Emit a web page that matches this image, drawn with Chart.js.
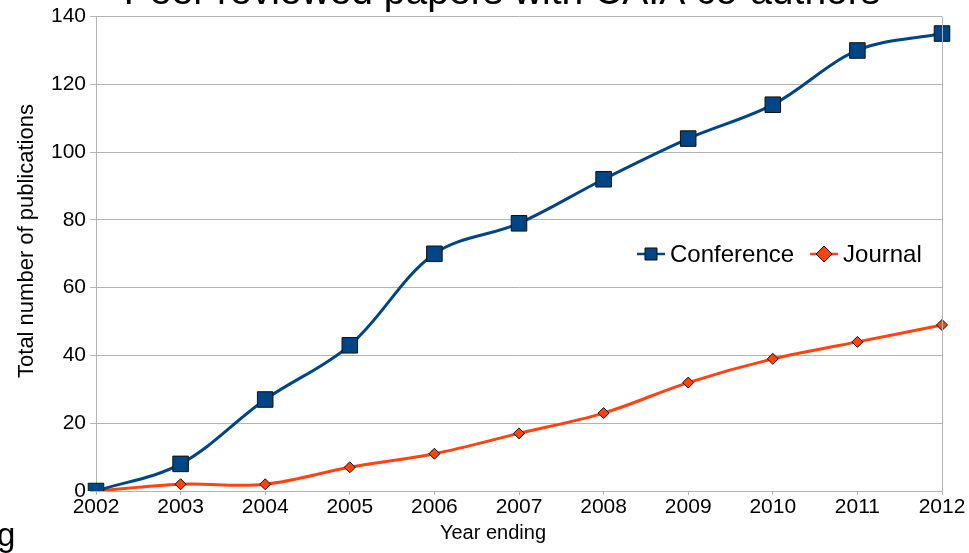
<!DOCTYPE html>
<html>
<head>
<meta charset="utf-8">
<script src="https://cdn.jsdelivr.net/npm/chart.js@4"></script>
<style>
html,body{margin:0;padding:0;background:#fff;overflow:hidden;}
#wrap{position:relative;width:969px;height:553px;}
</style>
</head>
<body>
<div id="wrap"><canvas id="c" width="969" height="553"></canvas></div>
<script>
const years = ['2002','2003','2004','2005','2006','2007','2008','2009','2010','2011','2012'];
const conference = [0, 8, 27, 43, 70, 79, 92, 104, 114, 130, 135];
const journal = [0, 2, 2, 7, 11, 17, 23, 32, 39, 44, 49];
const seriesNames = ['Conference', 'Journal'];
const titleText = 'Peer reviewed papers with CAIA co-authors';
const xTitle = 'Year ending';
const yTitle = 'Total number of publications';

const FONT = "'Liberation Sans', Arial, sans-serif";
const legendRadius = [8.5, 8];

const extras = {
  id: 'extras',
  afterDraw(chart) {
    const ctx = chart.ctx;
    const a = chart.chartArea;
    ctx.save();
    // plot border (right side)
    ctx.strokeStyle = '#b3b3b3';
    ctx.lineWidth = 1;
    ctx.beginPath();
    ctx.moveTo(a.right + 0.5, a.top);
    ctx.lineTo(a.right + 0.5, a.bottom);
    ctx.stroke();
    // cut-off title
    ctx.fillStyle = '#000';
    ctx.font = '39px ' + FONT;
    ctx.textAlign = 'center';
    ctx.textBaseline = 'alphabetic';
    ctx.fillText(titleText, 502, 4);
    // axis titles
    ctx.font = '20px ' + FONT;
    ctx.fillText(xTitle, 493, 539);
    ctx.save();
    ctx.translate(33, 241);
    ctx.rotate(-Math.PI / 2);
    ctx.font = '22px ' + FONT;
    ctx.fillText(yTitle, 0, 0);
    ctx.restore();
    // cut-off fragment bottom-left
    ctx.textAlign = 'left';
    ctx.font = '33px ' + FONT;
    ctx.fillText('g', -3, 546);
    // legend
    const ds = chart.data.datasets;
    const ly = 254;
    let lx = 637;
    ctx.font = '24px ' + FONT;
    ctx.textBaseline = 'middle';
    ds.forEach((d, i) => {
      ctx.strokeStyle = d.borderColor;
      ctx.lineWidth = 2.5;
      ctx.beginPath();
      ctx.moveTo(lx, ly);
      ctx.lineTo(lx + 28, ly);
      ctx.stroke();
      ctx.fillStyle = d.pointBackgroundColor;
      ctx.strokeStyle = d.pointBorderColor;
      ctx.lineWidth = 1;
      Chart.helpers.drawPoint(ctx, {pointStyle: d.pointStyle, rotation: 0, borderWidth: 1, radius: legendRadius[i]}, lx + 14, ly);
      ctx.fillStyle = '#000';
      ctx.fillText(d.label, lx + 33, ly + 1);
      lx += 33 + ctx.measureText(d.label).width + 16;
    });
    ctx.restore();
  }
};

new Chart(document.getElementById('c'), {
  type: 'line',
  data: {
    labels: years,
    datasets: [
      {
        label: seriesNames[0],
        data: conference,
        borderColor: '#004586',
        borderWidth: 3,
        pointStyle: 'rect',
        pointRadius: 11,
        pointHoverRadius: 11,
        pointBackgroundColor: '#004586',
        pointBorderColor: '#111',
        pointBorderWidth: 1,
        tension: 0.35,
        fill: false
      },
      {
        label: seriesNames[1],
        data: journal,
        borderColor: '#ff420e',
        borderWidth: 3,
        pointStyle: 'rectRot',
        pointRadius: 5.5,
        pointHoverRadius: 5.5,
        pointBackgroundColor: '#ff420e',
        pointBorderColor: '#111',
        pointBorderWidth: 1,
        tension: 0.35,
        fill: false
      }
    ]
  },
  options: {
    responsive: false,
    animation: false,
    devicePixelRatio: 1,
    layout: { padding: { left: 0, right: 27, top: 14, bottom: 0 } },
    plugins: { legend: { display: false }, title: { display: false }, tooltip: { enabled: false } },
    scales: {
      x: {
        type: 'category',
        offset: false,
        grid: { display: true, drawOnChartArea: false, drawTicks: true, tickLength: 4, color: '#b3b3b3' },
        border: { display: true, color: '#b3b3b3' },
        ticks: { color: '#000', font: { family: FONT, size: 21 }, padding: 0, maxRotation: 0, autoSkip: false },
        title: { display: false },
        afterFit(s) { s.height = 62; }
      },
      y: {
        min: 0, max: 140,
        ticks: { stepSize: 20, color: '#000', font: { family: FONT, size: 21 }, padding: 4 },
        grid: { color: '#b3b3b3', tickLength: 6 },
        border: { display: true, color: '#b3b3b3' },
        title: { display: false },
        afterFit(s) { s.width = 96; }
      }
    }
  },
  plugins: [extras]
});
</script>
</body>
</html>
